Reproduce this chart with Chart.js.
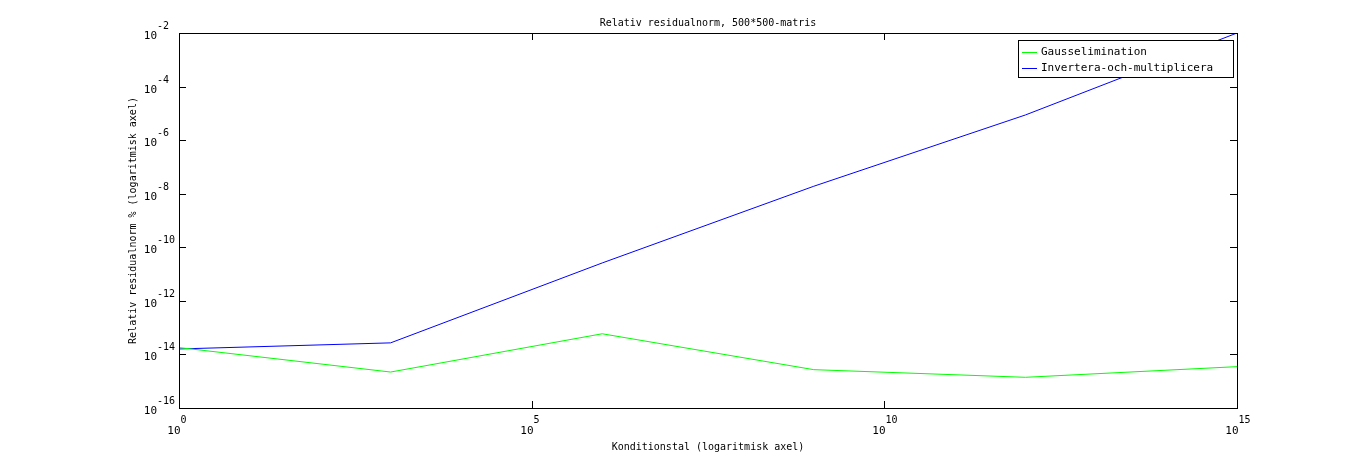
<!DOCTYPE html>
<html><head><meta charset="utf-8">
<script src="https://cdn.jsdelivr.net/npm/chart.js@4"></script>
<style>html,body{margin:0;background:#fff}#c{display:block}</style>
</head><body>
<canvas id="c" width="1366" height="460"></canvas>
<script>
const xValues = [1, 1e3, 1e6, 1e9, 1e12, 1e15];
const gaussValues = [1.8e-14, 2.2e-15, 5.9e-14, 2.7e-15, 1.4e-15, 3.5e-15];
const invertValues = [1.6e-14, 2.7e-14, 2.6e-11, 1.9e-8, 8.7e-6, 1e-2];
const xTickExps = [0, 5, 10, 15];
const yTickExps = [-2, -4, -6, -8, -10, -12, -14, -16];
const seriesNames = ["Gausselimination", "Invertera-och-multiplicera"];
const seriesColors = ["#00ff00", "#0000ff"];
const FONT = "DejaVu Sans Mono";

const decor = {
    id: "decor",
    afterDraw(chart) {
        const ctx = chart.ctx, a = chart.chartArea;
        const xs = chart.scales.x, ys = chart.scales.y;
        ctx.save();
        ctx.strokeStyle = "#000"; ctx.lineWidth = 1;
        ctx.strokeRect(a.left + 0.5, a.top + 0.5, a.right - a.left, a.bottom - a.top);
        ctx.fillStyle = "#000";
        xTickExps.forEach(e => {
            const x = Math.round(xs.getPixelForValue(Math.pow(10, e))) + 0.5;
            ctx.beginPath();
            ctx.moveTo(x, a.bottom); ctx.lineTo(x, a.bottom - 7);
            ctx.moveTo(x, a.top); ctx.lineTo(x, a.top + 7);
            ctx.stroke();
            ctx.font = "11px " + FONT; ctx.textAlign = "right"; ctx.textBaseline = "alphabetic";
            ctx.fillText("10", x + 1, 434);
            ctx.font = "10px " + FONT; ctx.textAlign = "left";
            ctx.fillText(String(e), x + 1, 423);
        });
        yTickExps.forEach(e => {
            const y = Math.round(ys.getPixelForValue(Math.pow(10, e))) + 0.5;
            ctx.beginPath();
            ctx.moveTo(a.left, y); ctx.lineTo(a.left + 7, y);
            ctx.moveTo(a.right, y); ctx.lineTo(a.right - 7, y);
            ctx.stroke();
            ctx.font = "11px " + FONT; ctx.textAlign = "right"; ctx.textBaseline = "alphabetic";
            ctx.fillText("10", 157, y + 5);
            ctx.font = "10px " + FONT; ctx.textAlign = "left";
            ctx.fillText(String(e), 157, y - 5);
        });
        ctx.font = "10px " + FONT; ctx.textAlign = "center";
        ctx.fillText("Relativ residualnorm, 500*500-matris", (a.left + a.right) / 2, 26);
        ctx.fillText("Konditionstal (logaritmisk axel)", (a.left + a.right) / 2, 450);
        ctx.save();
        ctx.translate(136, (a.top + a.bottom) / 2);
        ctx.rotate(-Math.PI / 2);
        ctx.fillText("Relativ residualnorm % (logaritmisk axel)", 0, 0);
        ctx.restore();
        // legend
        const lx = 1018, ly = 40, lw = 215, lh = 37;
        ctx.fillStyle = "#fff"; ctx.fillRect(lx, ly, lw, lh);
        ctx.strokeRect(lx + 0.5, ly + 0.5, lw, lh);
        ctx.font = "11px " + FONT;
        ctx.textAlign = "left"; ctx.textBaseline = "middle";
        seriesNames.forEach((n, i) => {
            const yy = ly + 12 + i * 16;
            ctx.strokeStyle = seriesColors[i];
            ctx.beginPath(); ctx.moveTo(lx + 4, yy + 0.5); ctx.lineTo(lx + 19, yy + 0.5); ctx.stroke();
            ctx.fillStyle = "#000"; ctx.fillText(n, lx + 23, yy);
        });
        ctx.restore();
    }
};

new Chart(document.getElementById("c"), {
    type: "line",
    data: {
        datasets: [
            { data: xValues.map((x, i) => ({ x, y: gaussValues[i] })), borderColor: seriesColors[0] },
            { data: xValues.map((x, i) => ({ x, y: invertValues[i] })), borderColor: seriesColors[1] }
        ].map(d => Object.assign(d, { borderWidth: 1, pointRadius: 0, tension: 0, fill: false }))
    },
    options: {
        responsive: false, animation: false,
        layout: { padding: { left: 179, right: 129, top: 33, bottom: 52 } },
        plugins: { legend: { display: false }, tooltip: { enabled: false } },
        scales: {
            x: { type: "logarithmic", min: 1, max: 1e15, display: false },
            y: { type: "logarithmic", min: 1e-16, max: 1e-2, display: false }
        }
    },
    plugins: [decor]
});
</script>
</body></html>
